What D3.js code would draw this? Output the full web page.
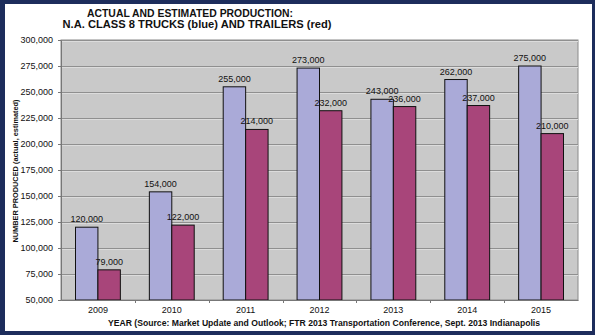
<!DOCTYPE html>
<html>
<head>
<meta charset="utf-8">
<script src="https://cdn.jsdelivr.net/npm/d3@7"></script>
<style>
  body { margin: 0; background: #fff; }
  svg { display: block; font-family: Arial, "Liberation Sans", sans-serif; }
</style>
</head>
<body>
<svg></svg>
<script>
const years = ["2009", "2010", "2011", "2012", "2013", "2014", "2015"];
const trucks = [120000, 154000, 255000, 273000, 243000, 262000, 275000];
const trailers = [79000, 122000, 214000, 232000, 236000, 237000, 210000];
const yTicks = [50000, 75000, 100000, 125000, 150000, 175000, 200000, 225000, 250000, 275000, 300000];

const W = 595, H = 335;
const svg = d3.select("svg")
    .attr("width", W)
    .attr("height", H);

// navy frame
svg.append("rect")
    .attr("width", W).attr("height", H)
    .attr("fill", "#1d2d5c");
svg.append("rect")
    .attr("x", 5).attr("y", 4)
    .attr("width", W - 8).attr("height", H - 8)
    .attr("fill", "#ffffff");

const margin = {top: 40, right: 17, bottom: 35, left: 61},
      width = W - margin.left - margin.right,
      height = H - margin.top - margin.bottom;

const g = svg.append("g")
    .attr("transform", `translate(${margin.left},${margin.top})`);

const x = d3.scaleBand()
    .domain(years)
    .range([0, width]);

const x1 = d3.scaleBand()
    .domain(["trucks", "trailers"])
    .range([14.5, x.bandwidth() - 14.5]);

const y = d3.scaleLinear()
    .domain([50000, 300000])
    .range([height, 0]);

// plot background
g.append("rect")
    .attr("width", width)
    .attr("height", height)
    .attr("fill", "#c9c9c9")
    .attr("stroke", "#8a8a8a")
    .attr("stroke-width", 1);

// grid lines
g.selectAll(".grid")
    .data(yTicks.slice(1))
    .enter().append("line")
    .attr("class", "grid")
    .attr("x1", 0).attr("x2", width)
    .attr("y1", d => Math.round(y(d)) + 0.5)
    .attr("y2", d => Math.round(y(d)) + 0.5)
    .attr("stroke", "#8f8f8f");
g.selectAll(".grid-hi")
    .data(yTicks.slice(1))
    .enter().append("line")
    .attr("class", "grid-hi")
    .attr("x1", 0).attr("x2", width)
    .attr("y1", d => Math.round(y(d)) + 1.5)
    .attr("y2", d => Math.round(y(d)) + 1.5)
    .attr("stroke", "#dcdcdc");

const rows = years.map((yr, i) => ({year: yr, trucks: trucks[i], trailers: trailers[i]}));
const colors = {trucks: "#aaaad8", trailers: "#a8457a"};

const groups = g.selectAll(".year")
    .data(rows)
    .enter().append("g")
    .attr("class", "year")
    .attr("transform", d => `translate(${x(d.year)},0)`);

groups.selectAll("rect")
    .data(d => ["trucks", "trailers"].map(k => ({key: k, value: d[k]})))
    .enter().append("rect")
    .attr("x", d => x1(d.key))
    .attr("y", d => y(d.value))
    .attr("width", x1.bandwidth())
    .attr("height", d => height - y(d.value))
    .attr("fill", d => colors[d.key])
    .attr("stroke", "#111")
    .attr("stroke-width", 1);

groups.selectAll(".val")
    .data(d => ["trucks", "trailers"].map(k => ({key: k, value: d[k]})))
    .enter().append("text")
    .attr("class", "val")
    .attr("x", d => x1(d.key) + x1.bandwidth() / 2)
    .attr("y", d => y(d.value) - 5)
    .attr("text-anchor", "middle")
    .attr("font-size", "9px")
    .attr("fill", "#111")
    .text(d => d3.format(",")(d.value));

// axes
const xAxis = g.append("g")
    .attr("class", "x-axis")
    .attr("transform", `translate(0,${height})`)
    .call(d3.axisBottom(x).tickSize(0).tickPadding(7));
xAxis.select(".domain").attr("stroke", "#777");
xAxis.selectAll("text").attr("font-size", "9px").attr("fill", "#111");
xAxis.selectAll(".sep")
    .data(years.slice(1))
    .enter().append("line")
    .attr("class", "sep")
    .attr("x1", d => Math.round(x(d)) + 0.5)
    .attr("x2", d => Math.round(x(d)) + 0.5)
    .attr("y1", 0).attr("y2", 3)
    .attr("stroke", "#777");

const yAxis = g.append("g")
    .attr("class", "y-axis")
    .call(d3.axisLeft(y).tickValues(yTicks).tickSize(3).tickPadding(5).tickFormat(d3.format(",")));
yAxis.select(".domain").attr("stroke", "#777");
yAxis.selectAll(".tick line").attr("stroke", "#777");
yAxis.selectAll("text").attr("font-size", "9px").attr("fill", "#111");

// titles
svg.append("text")
    .attr("x", 190).attr("y", 17)
    .attr("text-anchor", "middle")
    .attr("font-size", "10.5px")
    .attr("font-weight", "bold")
    .attr("fill", "#111")
    .attr("textLength", 206)
    .attr("lengthAdjust", "spacingAndGlyphs")
    .text("ACTUAL AND ESTIMATED PRODUCTION:");
svg.append("text")
    .attr("x", 197).attr("y", 28)
    .attr("text-anchor", "middle")
    .attr("font-size", "10.5px")
    .attr("font-weight", "bold")
    .attr("fill", "#111")
    .attr("textLength", 269)
    .attr("lengthAdjust", "spacingAndGlyphs")
    .text("N.A. CLASS 8 TRUCKS (blue) AND TRAILERS (red)");

svg.append("text")
    .attr("x", 324).attr("y", 326)
    .attr("text-anchor", "middle")
    .attr("font-size", "8.5px")
    .attr("font-weight", "bold")
    .attr("fill", "#111")
    .attr("textLength", 432)
    .attr("lengthAdjust", "spacingAndGlyphs")
    .text("YEAR (Source: Market Update and Outlook; FTR 2013 Transportation Conference, Sept. 2013 Indianapolis");

svg.append("text")
    .attr("transform", "translate(18,171) rotate(-90)")
    .attr("text-anchor", "middle")
    .attr("font-size", "7.5px")
    .attr("font-weight", "bold")
    .attr("fill", "#111")
    .attr("textLength", 143)
    .attr("lengthAdjust", "spacingAndGlyphs")
    .text("NUMBER PRODUCED (actual, estimated)");
</script>
</body>
</html>
